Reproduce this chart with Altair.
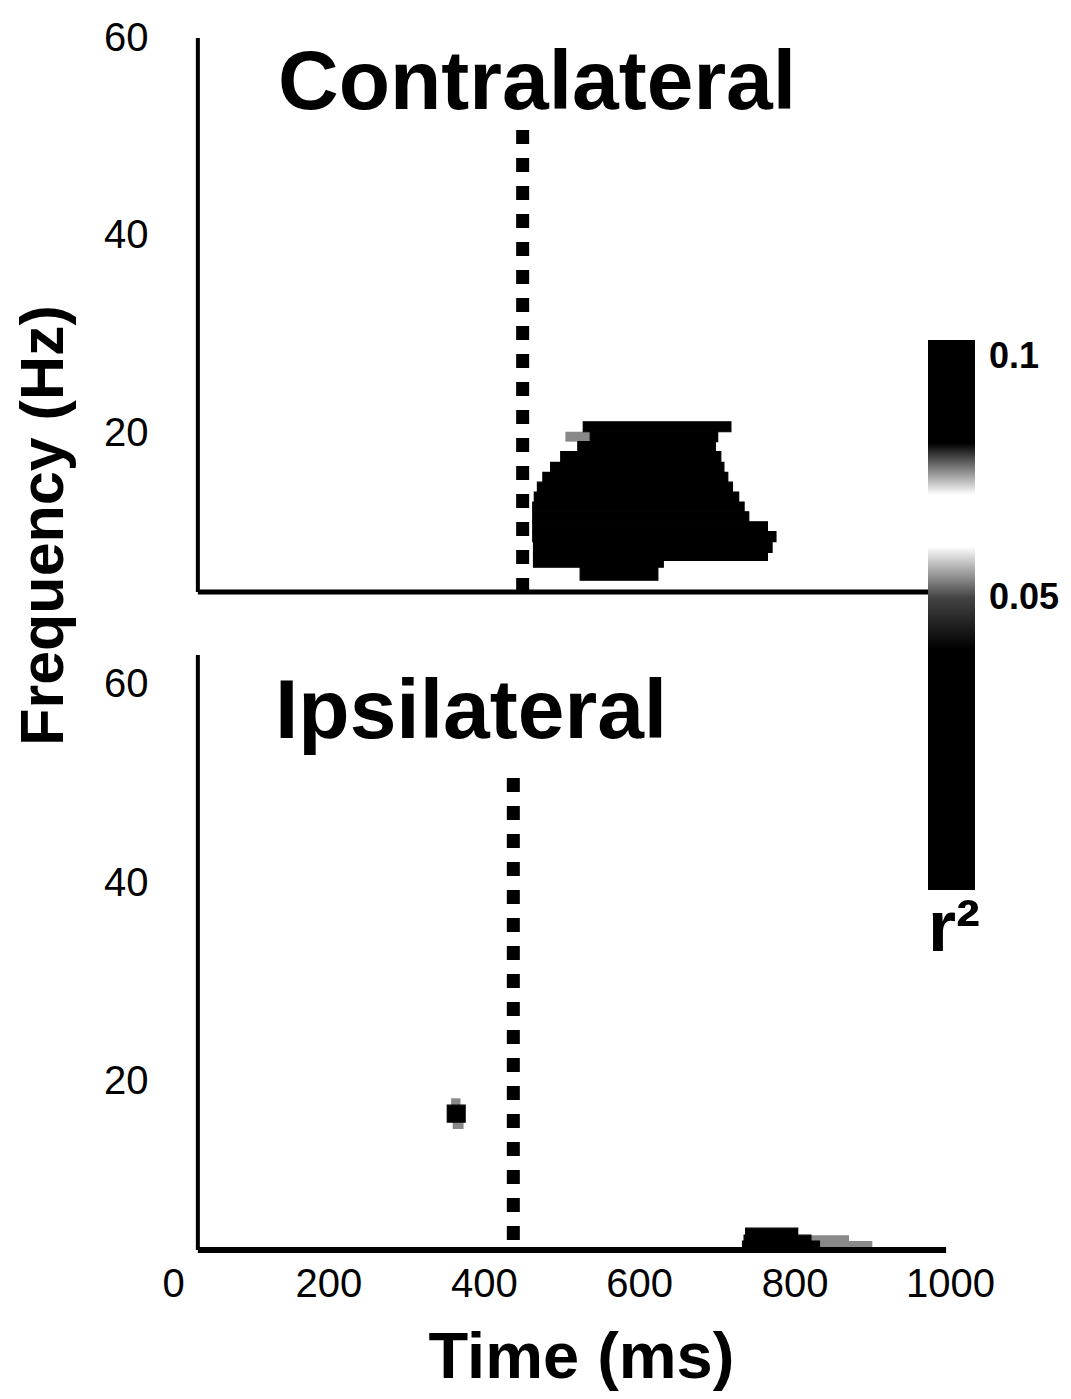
import altair as alt
import pandas as pd

# ---------------- data ----------------
PANEL_NAMES = ["Contralateral", "Ipsilateral"]
X_TICKS = [0, 200, 400, 600, 800, 1000]
Y_TICKS = [20, 40, 60]
CBAR_TICKS = [0.05, 0.1]

# Contralateral r^2 map: frequency rows (Hz) with the time span (ms) that is significant
TOP_F_LO = [20.2, 19.2, 19.2, 18.2, 17.1, 16.1, 15.1, 14.1, 13.1, 12.1, 11.1, 10.1, 9.1, 8.0, 7.2, 6.5, 5.2]
TOP_F_HI = [21.2, 20.2, 20.2, 19.2, 18.2, 17.1, 16.1, 15.1, 14.1, 13.1, 12.1, 11.1, 10.1, 9.1, 8.0, 7.2, 6.5]
TOP_T0 = [528, 505, 537, 521, 499, 486, 476, 469, 465, 463, 463, 463, 463, 464, 464, 464, 524]
TOP_T1 = [718, 537, 701, 698, 705, 709, 714, 720, 728, 735, 741, 765, 776, 771, 765, 631, 624]
TOP_R2 = [0.1, 0.051, 0.1, 0.1, 0.1, 0.1, 0.1, 0.1, 0.1, 0.1, 0.1, 0.1, 0.1, 0.1, 0.1, 0.1, 0.1]

# Ipsilateral r^2 map
BOT_F_LO = [17.6, 15.9, 15.2, 4.5, 3.9, 3.9, 3.0, 3.0]
BOT_F_HI = [18.3, 17.6, 15.9, 5.2, 4.5, 4.5, 3.9, 3.9]
BOT_T0 = [358, 353, 360, 737, 735, 821, 733, 832]
BOT_T1 = [370, 376, 374, 804, 821, 870, 832, 900]
BOT_R2 = [0.051, 0.1, 0.051, 0.1, 0.1, 0.051, 0.1, 0.051]

# movement-onset dashed markers (ms) and their frequency extent (Hz)
ONSET_T = [450, 438]
ONSET_F_HI = [50.7, 50.6]
ONSET_F_LO = [4.2, 3.8]

# frequency ranges of the two panels and the drawn axis lines
TOP_F_RANGE = [4, 60]
BOT_F_RANGE = [3, 63]
AXIS_T_START = 32
AXIS_T_END = [973, 995]

# colour map of the r^2 bar (black - white band - black)
CMAP_STOPS = [-0.0066, 0.049, 0.0525, 0.0715, 0.075, 0.1]
CMAP_COLORS = ["#000000", "#000000", "#ffffff", "#ffffff", "#000000", "#000000"]

# ---------------- layout ----------------
W, H = 777, 1212
FONT = "Liberation Sans"

top_df = pd.DataFrame({"f0": TOP_F_LO, "f1": TOP_F_HI, "t0": TOP_T0, "t1": TOP_T1, "r2": TOP_R2})
bot_df = pd.DataFrame({"f0": BOT_F_LO, "f1": BOT_F_HI, "t0": BOT_T0, "t1": BOT_T1, "r2": BOT_R2})

x_scale = alt.Scale(domain=[0, 1000], nice=False, zero=False)
y_top = alt.Scale(domain=TOP_F_RANGE, range=[554, 0], nice=False, zero=False)
y_bot = alt.Scale(domain=BOT_F_RANGE, range=[1212, 617], nice=False, zero=False)
c_scale = alt.Scale(domain=CMAP_STOPS, range=CMAP_COLORS, type="linear")

x_axis = alt.Axis(
    values=X_TICKS, format="d", title="Time (ms)", domain=False, ticks=False, grid=False,
    labelFont=FONT, labelFontSize=40, labelColor="black", labelPadding=14, labelFlush=False,
    titleFont=FONT, titleFontSize=65, titleFontWeight="bold", titleColor="black",
    titleX=408, titleY=127, titleBaseline="alphabetic", titleAlign="center",
)

def y_axis(title):
    kw = dict(
        values=Y_TICKS, format="d", orient="left", domain=False, ticks=False, grid=False,
        labelFont=FONT, labelFontSize=40, labelColor="black", labelPadding=25, labelFlush=False,
    )
    if title:
        return alt.Axis(
            title=title, titleFont=FONT, titleFontSize=61, titleFontWeight="bold", titleColor="black",
            titleAngle=270, titleX=-111, titleY=487, titleAlign="center", titleBaseline="alphabetic", **kw)
    return alt.Axis(title=None, **kw)

legend = alt.Legend(
    type="gradient", orient="none", legendX=755, legendY=302, direction="vertical",
    values=CBAR_TICKS, format="~g",
    gradientLength=550, gradientThickness=47, gradientStrokeWidth=0,
    labelFont=FONT, labelFontSize=36, labelFontWeight="bold", labelColor="black", labelOffset=14,
    title="r²", titleOrient="bottom", titleFont=FONT, titleFontSize=72, titleFontWeight="bold",
    titleColor="black", titlePadding=4, titleAnchor="start",
)


def panel(df, ys, yax, idx, name_x, name_y):
    base = alt.Chart(df).encode(
        x=alt.X("t0:Q", scale=x_scale, axis=x_axis),
        x2="t1:Q",
        y=alt.Y("f1:Q", scale=ys, axis=yax),
        y2="f0:Q",
        color=alt.Color("r2:Q", scale=c_scale, legend=legend),
    )
    # fully significant cells get a thin outline of their own colour so rows join without seams
    heat_core = base.transform_filter("datum.r2 >= 0.09").mark_rect(stroke="black", strokeWidth=1.2)
    heat_edge = base.transform_filter("datum.r2 < 0.09").mark_rect()
    dash_df = pd.DataFrame({"t": [ONSET_T[idx]], "fh": [ONSET_F_HI[idx]], "fl": [ONSET_F_LO[idx]]})
    dash = alt.Chart(dash_df).mark_rule(color="black", strokeWidth=13, strokeDash=[14, 14]).encode(
        x=alt.X("t:Q", scale=x_scale, axis=x_axis),
        y=alt.Y("fh:Q", scale=ys, axis=yax),
        y2="fl:Q",
    )
    frange = TOP_F_RANGE if idx == 0 else BOT_F_RANGE
    vline_df = pd.DataFrame({"t": [AXIS_T_START], "fh": [frange[1]], "fl": [frange[0]]})
    vline = alt.Chart(vline_df).mark_rule(color="black", strokeWidth=4).encode(
        x=alt.X("t:Q", scale=x_scale, axis=x_axis),
        y=alt.Y("fh:Q", scale=ys, axis=yax),
        y2="fl:Q",
    )
    hline_df = pd.DataFrame({"t0": [AXIS_T_START], "t1": [AXIS_T_END[idx]], "f": [frange[0]]})
    hline = alt.Chart(hline_df).mark_rule(color="black", strokeWidth=5 if idx == 0 else 6).encode(
        x=alt.X("t0:Q", scale=x_scale, axis=x_axis),
        x2="t1:Q",
        y=alt.Y("f:Q", scale=ys, axis=yax),
    )
    name = alt.Chart(pd.DataFrame({"label": [PANEL_NAMES[idx]]})).mark_text(
        align="left", baseline="alphabetic", font=FONT, fontSize=84, fontWeight="bold", color="black"
    ).encode(text="label:N", x=alt.value(name_x), y=alt.value(name_y))
    return alt.layer(heat_edge, heat_core, dash, vline, hline, name)


top = panel(top_df, y_top, y_axis("Frequency (Hz)"), 0, 105, 71)
bot = panel(bot_df, y_bot, y_axis(None), 1, 102, 700)

chart = (
    alt.layer(top, bot)
    .resolve_scale(y="independent")
    .resolve_axis(y="independent")
    .properties(
        width=W, height=H,
        autosize=alt.AutoSizeParams(type="none"),
        padding={"left": 173, "top": 38, "right": 121, "bottom": 149},
        background="white",
    )
    .configure_view(stroke=None)
)

chart.save("out.html", embed_options={"renderer": "svg", "actions": False})
